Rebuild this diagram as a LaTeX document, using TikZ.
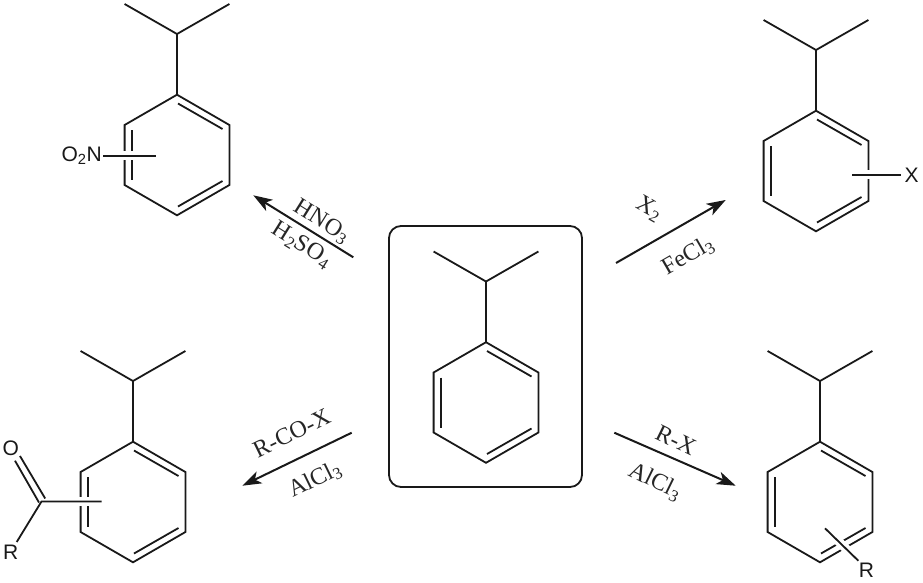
\documentclass[tikz,border=0pt]{standalone}
\usepackage{fontspec}
\setmainfont{Liberation Serif}
\newfontfamily\atomfont{Liberation Sans}
\usetikzlibrary{arrows.meta}
\tikzset{
  bondline/.style={line width=1.8pt,line cap=butt,line join=miter,black!90},
  halo/.style={line width=9pt,line cap=butt,white},
  rxnarrow/.style={line width=2pt,black!90,-{Stealth[length=19pt,width=13pt,inset=5pt]}},
  atomlabel/.style={font=\atomfont\fontsize{21}{23}\selectfont,inner sep=0pt,text=black!90},
  reagent/.style={font=\fontsize{24}{26}\selectfont,inner sep=0pt,text=black!85},
  framebox/.style={line width=1.8pt,rounded corners=12pt,black!90}
}
\newcommand{\cumene}[2]{%
  \begin{scope}[shift={(#1,#2)}]
    \draw[bondline] (-52.4,-151) -- (0,-121) -- (52.4,-151);
    \draw[bondline] (0,-121) -- (0,-60.3);
    \draw[bondline] (0,-60.3) -- (52.4,-30) -- (52.4,30) -- (0,60.3) -- (-52.4,30) -- (-52.4,-30) -- cycle;
    \draw[bondline] (1,-51.5) -- (45.5,-26);
    \draw[bondline] (45.5,26) -- (1,51.5);
    \draw[bondline] (-45.2,-25) -- (-45.2,25);
  \end{scope}}
\begin{document}
\begin{tikzpicture}[x=1pt,y=-1pt]
  \useasboundingbox[fill=white] (0,0) rectangle (923,582);
  % centre frame
  \node[draw,framebox,minimum width=193pt,minimum height=261pt,inner sep=0pt] (frame) at (485.5,356.5) {};
  \cumene{486}{402.5}
  \cumene{177}{155}
  \cumene{816}{171}
  \cumene{133}{502}
  \cumene{820}{502}
  % nitro substituent
  \node[atomlabel,anchor=east] (no2) at (102,156) {O\textsubscript{2}N};
  \coordinate (no2out) at (103.3,155.7);
  \coordinate (no2in) at (155.7,155.7);
  \draw[halo] (117,155.7) -- (139,155.7);
  \draw[bondline] (no2out) -- (no2in);
  % halogen substituent
  \node[atomlabel] (xsub) at (911.5,175) {X};
  \coordinate (xin) at (852.3,174.7);
  \coordinate (xout) at (901,174.7);
  \draw[halo] (863,174.7) -- (874,174.7);
  \draw[bondline] (xin) -- (xout);
  % alkyl substituent
  \node[atomlabel] (rsub) at (866.5,570) {R};
  \coordinate (rin) at (825,528.3);
  \coordinate (rout) at (858.3,560.7);
  \draw[halo] (833,536) -- (850,552.5);
  \draw[bondline] (rin) -- (rout);
  % acyl substituent
  \node[atomlabel] (oxy) at (10.7,448) {O};
  \node[atomlabel] (racyl) at (10.7,552) {R};
  \coordinate (cco) at (41.5,501.5);
  \coordinate (acin) at (101.7,501.5);
  \coordinate (o1a) at (45.2,498.5);
  \coordinate (o1b) at (20,456);
  \coordinate (o2a) at (39,502.5);
  \coordinate (o2b) at (15,460.7);
  \coordinate (rac) at (16.7,542);
  \draw[halo] (74,501.5) -- (95,501.5);
  \draw[bondline] (acin) -- (cco) -- (rac);
  \draw[bondline] (o1a) -- (o1b);
  \draw[bondline] (o2a) -- (o2b);
  % reaction arrows
  \coordinate (a1s) at (353.3,257.3); \coordinate (a1e) at (253.3,195.3);
  \coordinate (a2s) at (616,263);     \coordinate (a2e) at (725.7,200);
  \coordinate (a3s) at (351.7,432.7); \coordinate (a3e) at (242.3,485.7);
  \coordinate (a4s) at (614.3,432.7); \coordinate (a4e) at (735.7,485.7);
  \draw[rxnarrow] (a1s) -- (a1e);
  \draw[rxnarrow] (a2s) -- (a2e);
  \draw[rxnarrow] (a3s) -- (a3e);
  \draw[rxnarrow] (a4s) -- (a4e);
  % reagents
  \node[reagent,rotate=-32] (hno) at (321.7,221.7) {HNO\textsubscript{3}};
  \node[reagent,rotate=-32] (hso) at (301.7,245) {H\textsubscript{2}SO\textsubscript{4}};
  \node[reagent,rotate=-30] (xtwo) at (649,209) {X\textsubscript{2}};
  \node[reagent,rotate=30] (fecl) at (688,256) {FeCl\textsubscript{3}};
  \node[reagent,rotate=26] (rcox) at (291.7,433.3) {R-CO-X};
  \node[reagent,rotate=26] (alcla) at (315,480) {AlCl\textsubscript{3}};
  \node[reagent,rotate=-26] (rx) at (676,440) {R-X};
  \node[reagent,rotate=-26] (alclb) at (655,481.7) {AlCl\textsubscript{3}};
\end{tikzpicture}
\end{document}
